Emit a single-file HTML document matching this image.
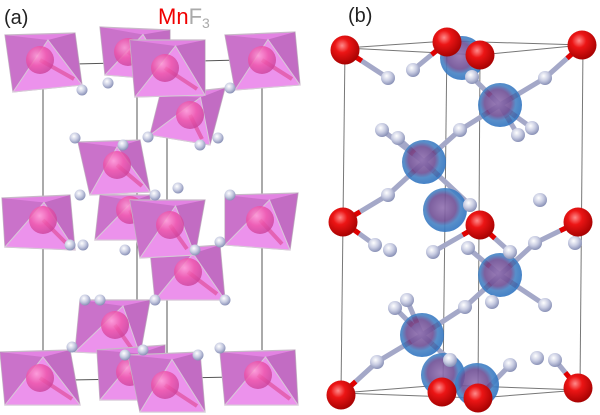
<!DOCTYPE html>
<html><head><meta charset="utf-8"><style>
html,body{margin:0;padding:0;background:#fff;width:600px;height:415px;overflow:hidden}
svg{display:block}
</style></head><body>
<svg id="s" width="600" height="415" viewBox="0 0 600 415" xmlns="http://www.w3.org/2000/svg">
<defs>
<radialGradient id="mn" cx="0.38" cy="0.35" r="0.7"><stop offset="0" stop-color="#ff9fd6"/><stop offset="0.5" stop-color="#ee52a8"/><stop offset="1" stop-color="#c8409a"/></radialGradient>
<radialGradient id="f" cx="0.4" cy="0.35" r="0.7"><stop offset="0" stop-color="#ffffff"/><stop offset="0.5" stop-color="#c8cce2"/><stop offset="1" stop-color="#8088b0"/></radialGradient>
<radialGradient id="red" cx="0.4" cy="0.35" r="0.7"><stop offset="0" stop-color="#ff8a8a"/><stop offset="0.35" stop-color="#ec1515"/><stop offset="1" stop-color="#a00000"/></radialGradient>
<radialGradient id="blue" cx="0.45" cy="0.45" r="0.6"><stop offset="0" stop-color="#9070b0"/><stop offset="0.5" stop-color="#6e4e94"/><stop offset="0.68" stop-color="#4582c4"/><stop offset="1" stop-color="#2a70c0"/></radialGradient>
</defs>
<g id="cellA" stroke="#555" stroke-width="1" fill="none">
<line x1="43" y1="88" x2="43" y2="355"/><line x1="137" y1="75" x2="137" y2="330"/>
<line x1="167" y1="95" x2="167" y2="355"/><line x1="262" y1="88" x2="262" y2="350"/>
<line x1="75" y1="64" x2="240" y2="60"/><line x1="70" y1="380" x2="235" y2="377"/>
</g>
<g id="cellB" stroke="#777" stroke-width="1" fill="none">
<polygon points="345,48 447,41 583,45 480,55"/>
<polygon points="341,393 442,385 580,390 478,398"/>
<line x1="345" y1="48" x2="341" y2="393"/><line x1="447" y1="41" x2="443" y2="385"/>
<line x1="480" y1="55" x2="478" y2="398"/><line x1="583" y1="45" x2="580" y2="390"/>
</g>
<g id="octs"></g>
<g id="bonds"></g>
<g id="atoms"></g>
<text x="4" y="24" font-family="Liberation Sans, sans-serif" font-size="20" fill="#222">(a)</text>
<text x="158" y="24" font-family="Liberation Sans, sans-serif" font-size="22" fill="#f00000">Mn<tspan fill="#aaa">F</tspan><tspan fill="#aaa" font-size="14" dy="4">3</tspan></text>
<text x="348" y="22" font-family="Liberation Sans, sans-serif" font-size="20" fill="#222">(b)</text>
</svg>
<script>
var NS="http://www.w3.org/2000/svg";
function el(p,t,a){var e=document.createElementNS(NS,t);for(var k in a)e.setAttribute(k,a[k]);document.getElementById(p).appendChild(e);return e;}
var O=[
[[100,27],[170,30],[170,80],[105,75],[128,52]],
[[5,35],[75,33],[82,85],[13,92],[40,60]],
[[225,35],[295,32],[300,85],[235,90],[262,60]],
[[160,95],[225,88],[210,145],[150,135],[190,115]],
[[130,40],[205,40],[205,95],[135,97],[165,68]],
[[78,142],[140,140],[150,192],[90,195],[117,165]],
[[100,195],[150,195],[150,240],[95,240],[130,210]],
[[2,198],[70,195],[75,250],[5,247],[43,220]],
[[225,195],[298,193],[290,250],[225,245],[260,220]],
[[150,250],[220,245],[225,300],[155,300],[188,272]],
[[130,200],[205,200],[195,255],[140,258],[170,225]],
[[80,300],[150,300],[140,355],[75,352],[115,325]],
[[97,350],[165,345],[165,400],[100,400],[130,372]],
[[0,352],[70,350],[80,405],[5,405],[40,378]],
[[220,352],[295,350],[298,405],[225,405],[258,375]],
[[128,355],[200,352],[205,412],[140,412],[165,385]]
];
O.forEach(function(o){
 var c=o[4],p=o.slice(0,4);
 var pts=p.map(function(q){return q.join(',')}).join(' ');
 el('octs','polygon',{points:pts,fill:'#e283e2',stroke:'#c8b8c8','stroke-width':1.2});
 var ax=(p[0][0]+p[1][0])/2+8, ay=(p[0][1]+p[1][1])/2+6;
 el('octs','polygon',{points:p[0].join(',')+' '+ax+','+ay+' '+p[3].join(','),fill:'#c26cc2',opacity:0.75});
 el('octs','polygon',{points:p[1].join(',')+' '+ax+','+ay+' '+p[2].join(','),fill:'#b060b2',opacity:0.65});
 el('octs','polygon',{points:p[3].join(',')+' '+ax+','+ay+' '+p[2].join(','),fill:'#ec92ec',stroke:'#d8c8d8','stroke-width':1});
 el('octs','line',{x1:c[0],y1:c[1],x2:p[2][0]-8,y2:p[2][1]-6,stroke:'#e0458f','stroke-width':4,opacity:0.6});
 el('octs','circle',{cx:c[0],cy:c[1],r:14,fill:'url(#mn)',opacity:0.8});
});
var FA=[[82,90],[108,83],[230,88],[75,138],[123,145],[148,137],[200,145],[218,138],[80,195],[155,195],[178,188],[230,195],[83,245],[70,245],[125,250],[195,250],[220,242],[100,300],[85,300],[155,300],[225,300],[72,347],[125,355],[143,350],[198,355],[220,348]];
FA.forEach(function(f){el('atoms','circle',{cx:f[0],cy:f[1],r:5.5,fill:'url(#f)'});});
var BL=[[462,58],[500,105],[424,162],[445,210],[500,275],[422,335],[443,375],[477,385]];
var RD=[[345,50],[447,42],[480,55],[582,45],[343,222],[480,225],[578,222],[341,395],[442,392],[478,398],[578,388]];
var FB=[[388,78],[413,70],[472,77],[545,78],[382,130],[460,130],[398,138],[518,135],[532,128],[388,195],[375,245],[433,252],[468,248],[510,252],[535,243],[575,243],[395,308],[407,300],[465,307],[492,302],[545,305],[377,362],[450,360],[510,365],[537,358],[555,360],[390,250],[470,205],[540,200]];
var BD=[[345,50,388,78],[447,42,413,70],[582,45,545,78],[500,105,545,78],[500,105,472,77],[500,105,460,130],[500,105,518,135],[500,105,532,128],[424,162,460,130],[424,162,382,130],[424,162,398,138],[424,162,388,195],[424,162,470,205],[343,222,375,245],[343,222,388,195],[480,225,433,252],[480,225,510,252],[578,222,535,243],[578,222,575,243],[500,275,535,243],[500,275,468,248],[500,275,545,305],[500,275,465,307],[422,335,465,307],[422,335,395,308],[422,335,407,300],[422,335,377,362],[422,335,450,360],[341,395,377,362],[478,398,510,365],[578,388,555,360]];
BD.forEach(function(b){
 el('bonds','line',{x1:b[0],y1:b[1],x2:b[2],y2:b[3],stroke:'#a4a8c8','stroke-width':5,'stroke-linecap':'round'});
 var dx=b[2]-b[0],dy=b[3]-b[1],L=Math.hypot(dx,dy),ux=dx/L,uy=dy/L;
 el('bonds','line',{x1:b[0]+ux*13,y1:b[1]+uy*13,x2:b[0]+ux*20,y2:b[1]+uy*20,stroke:'#e00000','stroke-width':5});
});
BL.forEach(function(b){el('atoms','circle',{cx:b[0],cy:b[1],r:22,fill:'url(#blue)',opacity:0.9});});
FB.forEach(function(f){el('atoms','circle',{cx:f[0],cy:f[1],r:7,fill:'url(#f)'});});
RD.forEach(function(r){el('atoms','circle',{cx:r[0],cy:r[1],r:14.5,fill:'url(#red)'});});
</script>
</body></html>
